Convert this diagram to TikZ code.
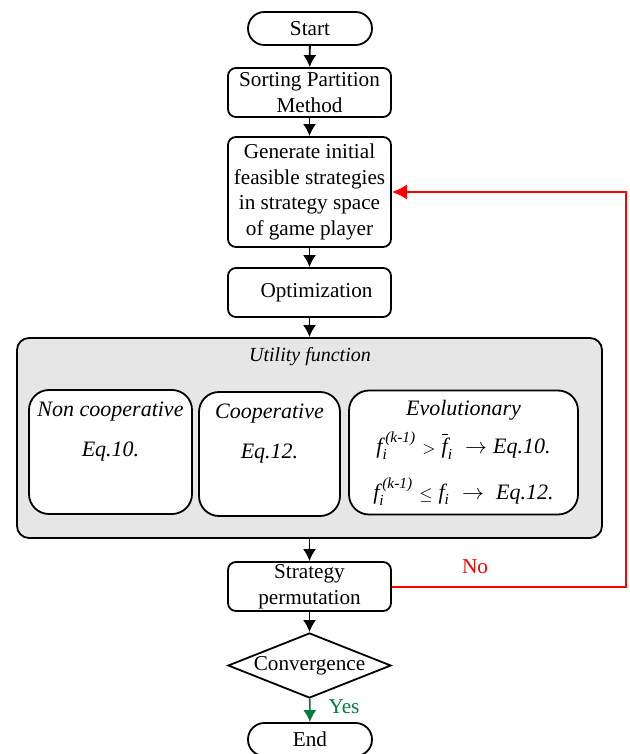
\documentclass[tikz,border=0pt]{standalone}
\usepackage{amsmath}
\usepackage{fontspec}
\setmainfont{Liberation Serif}
\usetikzlibrary{shapes.geometric, arrows.meta}
\definecolor{yesgreen}{RGB}{0,125,60}
\definecolor{utilgray}{RGB}{230,230,230}
\tikzset{
  box/.style={draw, line width=0.9pt, rounded corners=4pt, align=center, inner sep=1pt,
    minimum width=81.5pt, minimum height=24.5pt},
  term/.style={draw, line width=0.9pt, rounded corners=8.2pt, minimum width=62pt, minimum height=16.5pt, inner sep=1pt},
  inbox/.style={draw, line width=0.9pt, fill=white, rounded corners=10pt, align=center, inner sep=1pt,
    minimum height=62pt, font=\fontsize{11pt}{13pt}\selectfont\itshape},
  decide/.style={draw, line width=0.9pt, diamond, aspect=2.5, inner sep=0pt, minimum width=81.5pt, minimum height=32.5pt},
  flow/.style={-{Latex[length=6pt, width=6.5pt]}, line width=0.9pt}
}
\begin{document}
\begin{tikzpicture}[x=0.5pt, y=-0.5pt, font=\fontsize{10.6pt}{12.8pt}\selectfont]
\useasboundingbox (0,0) rectangle (630,754);
\node[term] (start) at (310,28.5) {Start};
\node[box] (sort) at (309.5,92.5) {Sorting Partition\\Method};
\node[box, minimum height=55pt] (gen) at (309.5,192) {Generate initial\\feasible strategies\\in strategy space\\of game player};
\node[box] (opt) at (309.5,292.5) {\hspace*{7pt}Optimization};
\node[draw, line width=0.9pt, fill=utilgray, rounded corners=6pt, minimum width=292.5pt, minimum height=100pt] (util) at (309.5,438) {};
\node[font=\itshape] (utiltitle) at (310,357) {Utility function};
\node[inbox, minimum width=81.5pt, label={[anchor=north, font=\fontsize{11pt}{13pt}\selectfont\itshape, yshift=-3pt]north:Non cooperative}] (noncoop) at (110.5,452) {Eq.10.};
\node[inbox, minimum width=70.5pt, label={[anchor=north, font=\fontsize{11pt}{13pt}\selectfont\itshape, yshift=-3pt]north:Cooperative}] (coop) at (269.5,454) {Eq.12.};
\node[inbox, minimum width=114.5pt] (evo) at (463.5,452.5) {Evolutionary\\[5pt]
  $\textit{f}_{\textit{i}}^{\,\textit{(k-1)}} \;{\scriptstyle >}\; \overline{\textit{f}}_{\textit{i}} \;\rightarrow \textit{Eq.10.}$\\[8pt]
  $\textit{f}_{\textit{i}}^{\,\textit{(k-1)}} \;{\scriptstyle \le}\; \textit{f}_{\textit{i}} \;\rightarrow\; \textit{Eq.12.}$};
\node[box] (perm) at (309.5,586.5) {Strategy\\permutation};
\node[decide] (conv) at (309.5,665.5) {Convergence};
\node[term] (end) at (310,739.5) {End};
\coordinate (back) at (626,400);
\draw[flow] (start) -- (sort);
\draw[flow] (sort) -- (gen);
\draw[flow] (gen) -- (opt);
\draw[flow] (opt) -- (util);
\draw[flow] (util) -- (perm);
\draw[flow] (perm) -- (conv);
\draw[flow, yesgreen] (conv) -- (end);
\draw[-{Latex[length=7.5pt, width=7.5pt]}, red, line width=1pt] (perm.east) -- (perm.east -| back) |- (gen.east);
\node[red] (no) at (475,567) {No};
\node[yesgreen] (yes) at (344,707) {Yes};
\end{tikzpicture}
\end{document}
